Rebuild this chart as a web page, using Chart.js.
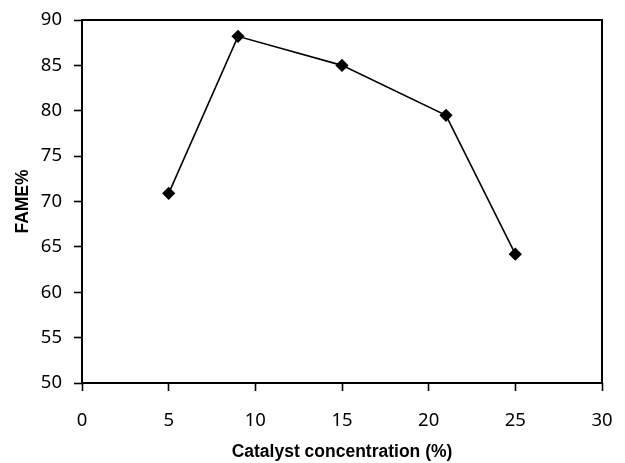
<!DOCTYPE html>
<html>
<head>
<meta charset="utf-8">
<script src="https://cdn.jsdelivr.net/npm/chart.js@4"></script>
<style>
  html, body { margin: 0; padding: 0; background: #fff; }
  #wrap { width: 625px; height: 463px; }
</style>
</head>
<body>
<div id="wrap"><canvas id="chart" width="625" height="463"></canvas></div>
<script>
// donnees
const concentrations = [5, 9, 15, 21, 25];
const fameValues = [70.9, 88.2, 85.0, 79.5, 64.2];
const xTicks = [0, 5, 10, 15, 20, 25, 30];
const yTicks = [50, 55, 60, 65, 70, 75, 80, 85, 90];

// cadre autour de la zone de trace
const frame = {
    id: 'frame',
    afterDraw(chart) {
        const a = chart.chartArea;
        const ctx = chart.ctx;
        ctx.save();
        ctx.strokeStyle = '#000';
        ctx.lineWidth = 2;
        ctx.strokeRect(a.left, a.top, a.right - a.left, a.bottom - a.top);
        ctx.restore();
    }
};

// taille fixe des axes, sans marge auto
function fixAxis(s, size) {
    if (s.isHorizontal()) s.height = size; else s.width = size;
    s.paddingLeft = s.paddingRight = s.paddingTop = s.paddingBottom = 0;
}

const tickFont = { family: 'Noto Sans', size: 18.5 };
const titleFont = { family: 'Liberation Sans', size: 17.5, weight: 'bold' };

new Chart(document.getElementById('chart'), {
    type: 'line',
    data: {
        datasets: [{
            data: concentrations.map((c, i) => ({ x: c, y: fameValues[i] })),
            borderColor: '#000',
            backgroundColor: '#000',
            borderWidth: 1.6,
            pointStyle: 'rectRot',
            pointRadius: 5.5,
            pointHoverRadius: 5.5,
            tension: 0
        }]
    },
    options: {
        responsive: false,
        animation: false,
        events: [],
        layout: { padding: { left: 0, right: 23, top: 20, bottom: 0 } },
        plugins: {
            legend: { display: false },
            tooltip: { enabled: false }
        },
        scales: {
            x: {
                type: 'linear',
                min: 0,
                max: 30,
                afterBuildTicks: s => { s.ticks = xTicks.map(v => ({ value: v })); },
                afterFit: s => fixAxis(s, 80),
                grid: { drawOnChartArea: false, tickLength: 8, tickColor: '#000', tickWidth: 1.6 },
                border: { display: false },
                ticks: { color: '#000', font: tickFont, padding: 19, maxRotation: 0 },
                title: { display: true, text: 'Catalyst concentration (%)', color: '#000', font: titleFont, padding: { top: 8, bottom: 0 } }
            },
            y: {
                min: 50,
                max: 90,
                afterBuildTicks: s => { s.ticks = yTicks.map(v => ({ value: v })); },
                afterFit: s => fixAxis(s, 82),
                grid: { drawOnChartArea: false, tickLength: 8, tickColor: '#000', tickWidth: 1.6 },
                border: { display: false },
                ticks: { color: '#000', font: tickFont, padding: 12 },
                title: { display: true, text: 'FAME%', color: '#000', font: titleFont, padding: { top: 13, bottom: 10 } }
            }
        }
    },
    plugins: [frame]
});
</script>
</body>
</html>
